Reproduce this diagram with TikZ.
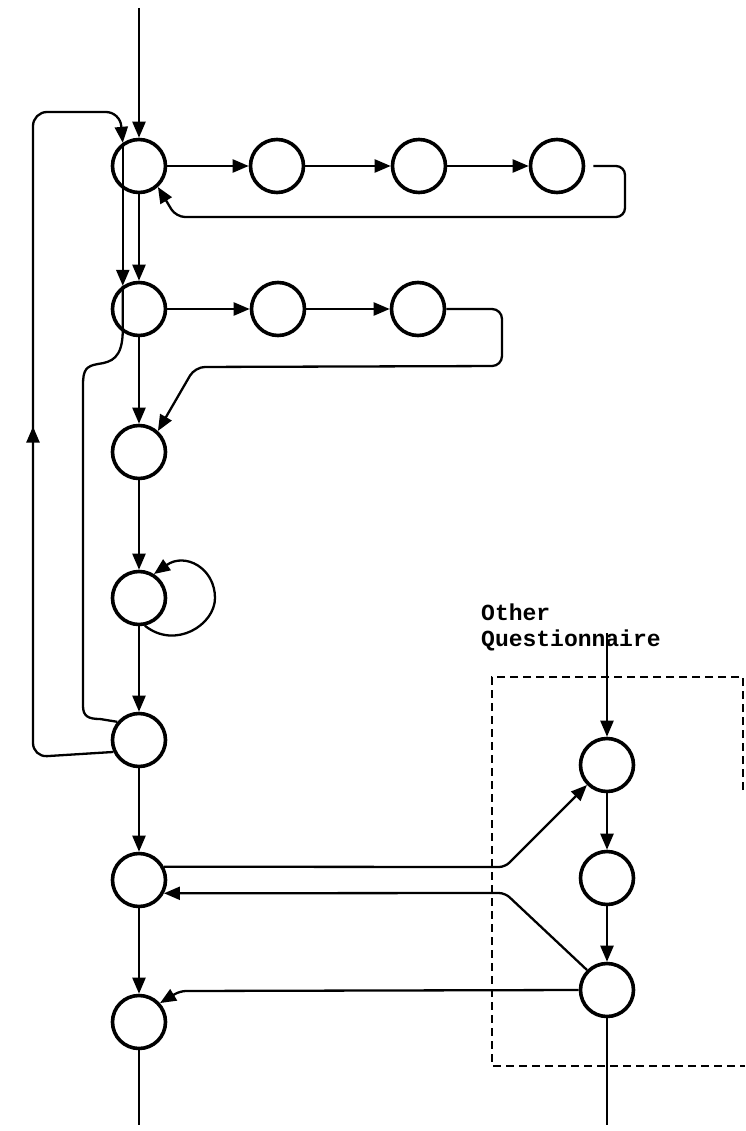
\documentclass[tikz,border=0pt]{standalone}
\usepackage{fontspec}
\newfontfamily\qfont{Liberation Mono}
\usetikzlibrary{arrows.meta,decorations.markings}

\begin{document}
\begin{tikzpicture}[x=1pt,y=-1pt,
    state/.style={circle,draw,line width=3.6pt,minimum size=53pt,inner sep=0pt},
    conn/.style={line width=2.3pt,-{Triangle[length=16pt,width=13pt]}},
    plain/.style={line width=2.3pt},
    midarrow/.style={postaction={decorate},decoration={markings,mark=at position #1 with {\arrow{Triangle[length=16pt,width=13pt]}}}},
    box/.style={line width=1.6pt,dash pattern=on 8pt off 5pt}]
    \useasboundingbox (0,0) rectangle (745,1131);

    \foreach \n/\x/\y in {A1/139/166,A2/277/166,A3/419/166,A4/557/166,
                          B1/139/309,B2/278/309,B3/418/309,
                          C/139/452,D/139/598,E/139/740,F/139/880,G/139/1022,
                          P1/607/765,P2/607/878,P3/607/990} {
        \node[state] (\n) at (\x,\y) {};
    }

    \node[anchor=north west,inner sep=0pt,align=left,font=\qfont\bfseries\fontsize{23}{26}\selectfont] (other) at (481,604) {Other\\Questionnaire};

    \coordinate (top) at (139,8);
    \coordinate (qin) at (607,633);
    \coordinate (outG) at (139,1125);
    \coordinate (outP) at (607,1125);

    \draw [conn] (top) -- (A1);
    \foreach \a/\b in {A1/A2,A2/A3,A3/A4,B1/B2,B2/B3,A1/B1,B1/C,C/D,D/E,E/F,F/G,P1/P2,P2/P3} {
        \draw [conn] (\a) -- (\b);
    }
    \draw [plain] (G) -- (outG);
    \draw [plain] (P3) -- (outP);
    \draw [conn] (qin) -- (P1);

    \draw [conn,rounded corners=9pt] ([xshift=8pt]A4.east) -- (625,166) -- (625,217) -- (176,217) -- (A1.-48);
    \draw [conn,rounded corners=10pt] (B3.east) -- (502,309) -- (502,366) -- (195,367) -- (C.48);

    \draw [conn,midarrow=0.49,rounded corners=14pt] (E.205) -- (33,757) -- (33,112) -- (120,112) -- (A1.125);
    \draw [conn] (A1.125) -- (B1.125);
    \draw [plain] (B1.125) -- (B1.235) .. controls (122,358) and (112,362) .. (98,364)
        .. controls (86,366) and (83,370) .. (83,385) -- (83,706)
        .. controls (83,716) and (88,719) .. (100,719) -- (E.140);

    \draw [conn] (D.-78) .. controls (175,650) and (215,625) .. (215,598) .. controls (215,568) and (185,552) .. (D.58);

    \draw [conn,rounded corners=6pt] (F.28) -- (505,867) -- (P1.225);
    \draw [conn,rounded corners=6pt] (P3.135) -- (505,893) -- (F.-28);
    \draw [conn,rounded corners=6pt] (P3.west) -- (180,991) -- (G.42);

    \draw [box] (743,790) -- (743,677) -- (492,677) -- (492,1066) -- (745,1066);
\end{tikzpicture}
\end{document}
